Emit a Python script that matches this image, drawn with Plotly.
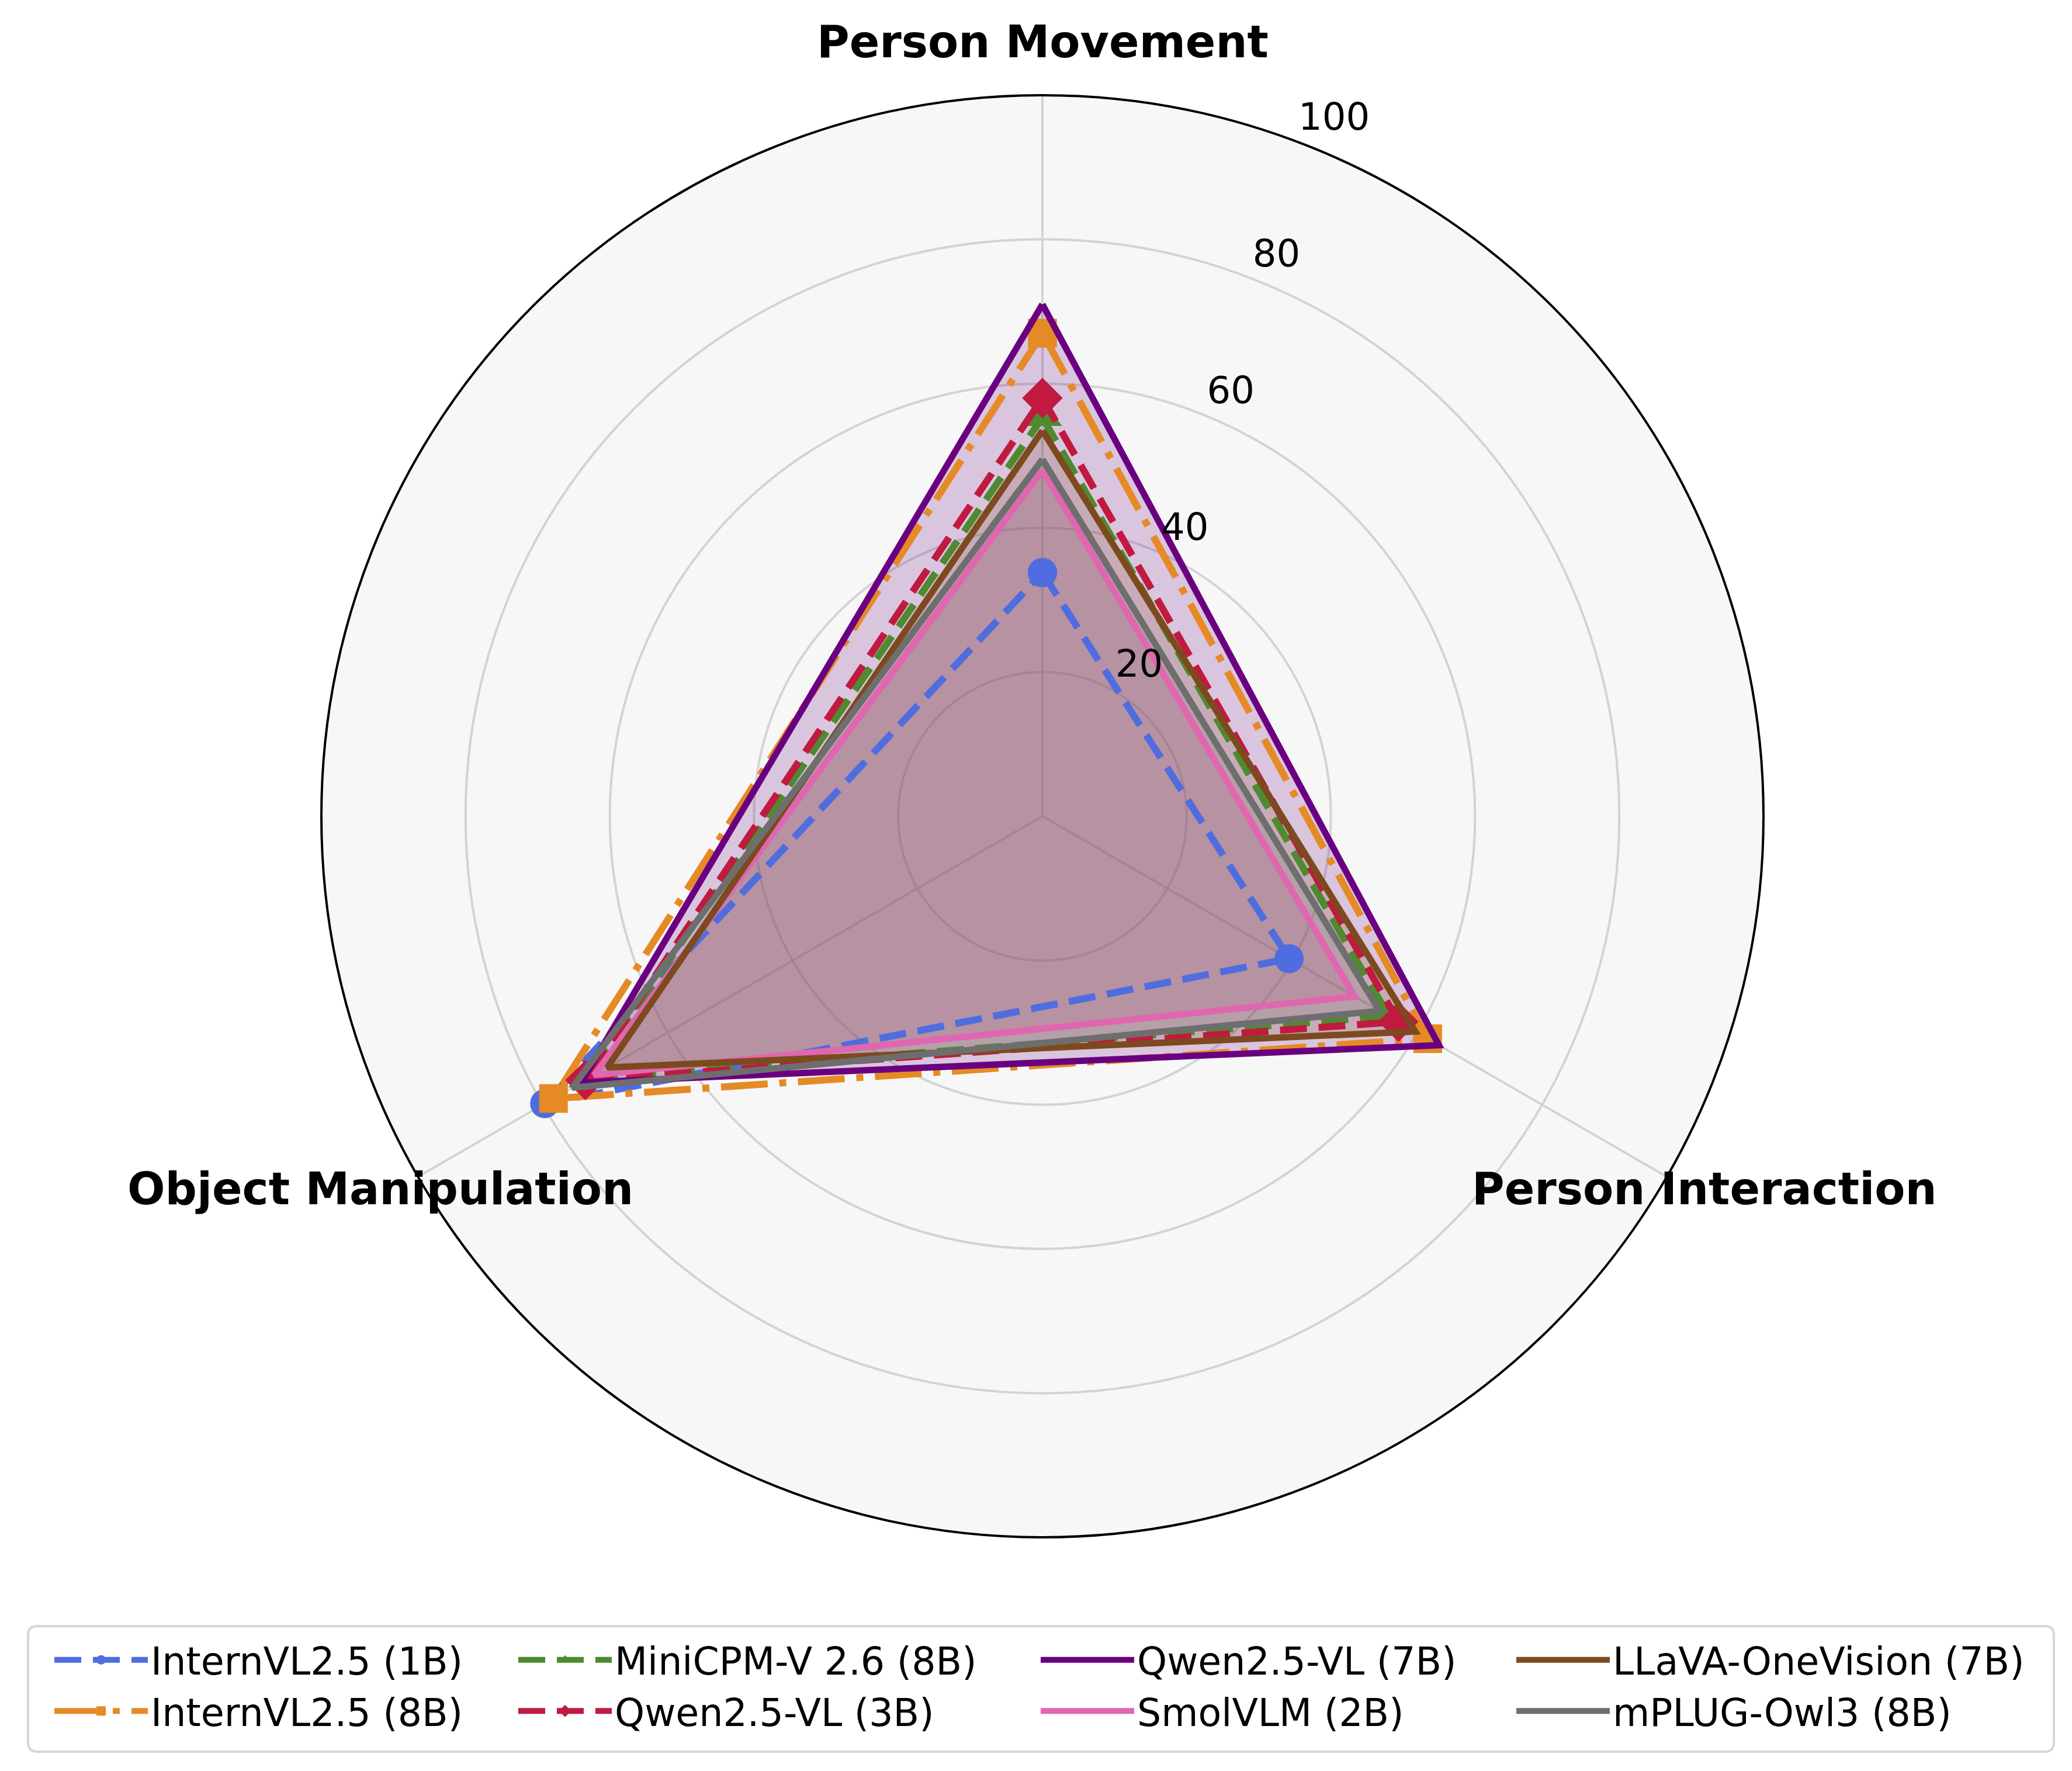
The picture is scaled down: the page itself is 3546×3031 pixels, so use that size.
import math
import plotly.graph_objects as go

# Radar chart: model scores per activity category
categories = ["Person Movement", "Person Interaction", "Object Manipulation"]

models = ["InternVL2.5 (1B)", "InternVL2.5 (8B)", "MiniCPM-V 2.6 (8B)", "Qwen2.5-VL (3B)",
          "Qwen2.5-VL (7B)", "SmolVLM (2B)", "LLaVA-OneVision (7B)", "mPLUG-Owl3 (8B)"]

internvl_1b = [33.8, 39.5, 79.7]
internvl_8b = [67.0, 61.7, 78.3]
minicpm_8b = [55.3, 55.5, 72.8]
qwen_3b = [58.0, 57.0, 73.2]
qwen_7b = [71.0, 63.5, 73.9]
smolvlm_2b = [48.0, 50.0, 71.8]
llava_7b = [53.5, 59.7, 69.7]
mplug_8b = [49.5, 54.0, 75.3]

radial_ticks = [20, 40, 60, 80, 100]
radial_ticktext = ["20", "40", "60", "80", "100"]

scores = [internvl_1b, internvl_8b, minicpm_8b, qwen_3b, qwen_7b, smolvlm_2b, llava_7b, mplug_8b]
colors = ["#4F6DDE", "#E68A25", "#4E8A2F", "#C01A40", "#6A0080", "#E066B0", "#7D4A1F", "#6E6E6E"]
dashes = ["46px,20px", "80px,20px,12px,20px", "46px,20px", "46px,20px",
          "solid", "solid", "solid", "solid"]
symbols = ["circle", "square", "triangle-up", "diamond", None, None, None, None]
marker_sizes = [50, 49, 58, 53, 0, 0, 0, 0]

W, H = 3546, 3031
center_px = (1776, 1389)
radius_px = 1234

# legend columns (left px of each column) and box
legend_cols_px = [80, 874, 1768, 2582]
legend_top_px = 2784
box_px = (40, 2775, 3507, 2990)


def rgba(hex_color, alpha):
    h = hex_color.lstrip("#")
    r, g, b = int(h[0:2], 16), int(h[2:4], 16), int(h[4:6], 16)
    return f"rgba({r},{g},{b},{alpha})"


def domain_for(scale):
    rr = radius_px * scale
    return dict(x=[(center_px[0] - rr) / W, (center_px[0] + rr) / W],
                y=[1 - (center_px[1] + rr) / H, 1 - (center_px[1] - rr) / H])


fig = go.Figure()
theta = categories + categories[:1]

# shaded areas first so every line sits above them
for i, name in enumerate(models):
    if dashes[i] == "solid":
        fig.add_trace(go.Scatterpolar(
            r=scores[i] + scores[i][:1], theta=theta, mode="lines", fill="toself",
            fillcolor=rgba(colors[i], 0.2), line=dict(width=0, color=colors[i]),
            showlegend=False, hoverinfo="skip"))

for i, name in enumerate(models):
    r = scores[i] + scores[i][:1]
    leg = "legend" if i < 2 else f"legend{i // 2 + 1}"
    if symbols[i]:
        fig.add_trace(go.Scatterpolar(
            r=r, theta=theta, mode="lines+markers", name=name, legend=leg, legendgroup=name,
            line=dict(color=colors[i], width=12, dash=dashes[i]),
            marker=dict(symbol=symbols[i], size=marker_sizes[i], color=colors[i])))
    else:
        fig.add_trace(go.Scatterpolar(
            r=r, theta=theta, mode="lines", name=name, legend=leg, legendgroup=name,
            line=dict(color=colors[i], width=11)))

# second, transparent polar carrying only the radial tick labels (set slightly outward)
label_scale = 1.1
fig.add_trace(go.Scatterpolar(r=[0], theta=categories[:1], mode="markers", subplot="polar2",
                              marker=dict(opacity=0), showlegend=False, hoverinfo="skip"))

# category labels around the outer ring
cx = (center_px[0]) / W
cy = 1 - center_px[1] / H
annotations = []
for k, cat in enumerate(categories):
    a = math.radians(k * 360 / len(categories))
    annotations.append(dict(
        x=cx + 1.06 * radius_px * math.sin(a) / W,
        y=cy + 1.06 * radius_px * math.cos(a) / H,
        xref="paper", yref="paper", xanchor="center", yanchor="middle", yshift=17,
        text=f"<b>{cat}</b>", showarrow=False,
        font=dict(family="DejaVu Sans", size=76, color="black")))

legend_style = dict(orientation="v", xanchor="left", yanchor="top",
                    y=1 - legend_top_px / H,
                    font=dict(family="DejaVu Sans", size=65, color="black"),
                    bgcolor="rgba(0,0,0,0)", borderwidth=0,
                    itemwidth=160, tracegroupgap=7, traceorder="normal",
                    itemsizing="trace")
legends = {}
for c, px in enumerate(legend_cols_px):
    key = "legend" if c == 0 else f"legend{c + 1}"
    legends[key] = dict(legend_style, x=px / W)

x0, y0, x1, y1 = box_px[0] / W, 1 - box_px[3] / H, box_px[2] / W, 1 - box_px[1] / H
rx, ry = 16 / W, 16 / H
box_path = (f"M{x0 + rx},{y0} L{x1 - rx},{y0} Q{x1},{y0} {x1},{y0 + ry} "
            f"L{x1},{y1 - ry} Q{x1},{y1} {x1 - rx},{y1} L{x0 + rx},{y1} "
            f"Q{x0},{y1} {x0},{y1 - ry} L{x0},{y0 + ry} Q{x0},{y0} {x0 + rx},{y0} Z")

fig.update_layout(
    width=W, height=H,
    margin=dict(l=0, r=0, t=0, b=0),
    paper_bgcolor="white",
    font=dict(family="DejaVu Sans", color="black"),
    annotations=annotations,
    shapes=[dict(type="path", path=box_path, xref="paper", yref="paper",
                 line=dict(color="#D6D6D6", width=4), fillcolor="white", layer="below")],
    polar=dict(
        domain=domain_for(1.0),
        bgcolor="#F7F7F7",
        angularaxis=dict(rotation=90, direction="clockwise", showticklabels=False, ticks="",
                         gridcolor="#D3D3D3", gridwidth=3.5,
                         showline=True, linecolor="black", linewidth=4),
        radialaxis=dict(range=[0, 100], tickvals=radial_ticks, showticklabels=False,
                        showline=False, ticks="", gridcolor="#D3D3D3", gridwidth=3.5),
    ),
    polar2=dict(
        domain=domain_for(label_scale),
        bgcolor="rgba(0,0,0,0)",
        angularaxis=dict(rotation=90, direction="clockwise", showticklabels=False, ticks="",
                         showgrid=False, showline=False),
        radialaxis=dict(range=[0, 100 * label_scale], tickvals=[t + 4 for t in radial_ticks],
                        ticktext=radial_ticktext, angle=71.5, tickangle=71.5,
                        showline=False, showgrid=False, ticks="",
                        tickfont=dict(family="DejaVu Sans", size=64, color="black")),
    ),
    **legends,
)

fig.write_html("out.html")
